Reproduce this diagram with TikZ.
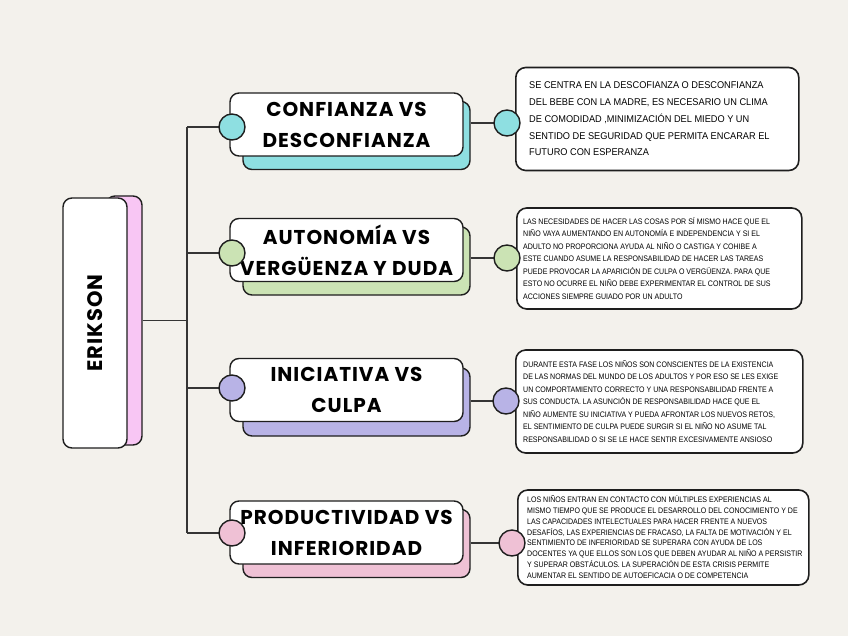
\documentclass[tikz,border=0pt]{standalone}
\usepackage{fontspec}
\setmainfont{Liberation Sans}
\newfontfamily\titlefont[LetterSpace=5]{Poppins}
\newfontfamily\descA[FakeStretch=0.94]{Liberation Sans}
\newfontfamily\descB[FakeStretch=0.88]{Liberation Sans}
\definecolor{paper}{HTML}{F3F1EC}
\definecolor{cyanC}{HTML}{8EDFE1}
\definecolor{greenC}{HTML}{CBE3B4}
\definecolor{lavC}{HTML}{B8B3E6}
\definecolor{pinkC}{HTML}{EFC1D5}
\definecolor{erpink}{HTML}{F8C6F4}
\definecolor{inkC}{HTML}{1E1E1E}
\tikzset{
  titlebox/.style={draw=inkC, line width=1.4pt, fill=white, rounded corners=9pt,
    minimum width=233pt, minimum height=63pt, inner sep=0pt, align=center,
    font=\titlefont\bfseries\fontsize{20}{31}\selectfont},
  shadowbox/.style={draw=inkC, line width=1.4pt, rounded corners=9pt,
    minimum width=227pt, minimum height=68pt, inner sep=0pt},
  dot/.style={circle, draw=inkC, line width=1.4pt, minimum size=26pt, inner sep=0pt},
  descbox/.style={draw=inkC, line width=1.6pt, fill=white, rounded corners=10pt,
    anchor=west, inner sep=0pt},
  desctext/.style={align=left, anchor=west, inner sep=0pt},
  link/.style={line width=1.3pt, draw=inkC!90},
}
\begin{document}
\begin{tikzpicture}[x=1pt,y=-1pt]
\fill[paper] (0,0) rectangle (848,636);
\useasboundingbox (0,0) rectangle (848,636);

% bus
\coordinate (bt) at (187,127);
\coordinate (bb) at (187,533);
\draw[link] (bt) -- (bb);

% Erikson
\node[draw=inkC, line width=1.4pt, fill=erpink, rounded corners=9pt, minimum width=36pt, minimum height=249pt, inner sep=0pt] (ersh) at (124,320.5) {};
\draw[link] (ersh.east) -- (ersh.east -| bt);
\node[draw=inkC, line width=1.4pt, fill=white, rounded corners=9pt, minimum width=64pt, minimum height=250pt, inner sep=0pt] (er) at (95,323) {};
\node[rotate=90, font=\titlefont\bfseries\fontsize{21}{24}\selectfont] (ert) at (er.center) {ERIKSON};

% dots positions
\coordinate (p1) at (232,127);
\coordinate (p2) at (232,253);
\coordinate (p3) at (232,388);
\coordinate (p4) at (232,533);
\coordinate (q1) at (507,123);
\coordinate (q2) at (507,258);
\coordinate (q3) at (506,401);
\coordinate (q4) at (512,543);

% shadows
\node[shadowbox, fill=cyanC] (s1) at (356.5,135.5) {};
\node[shadowbox, fill=greenC] (s2) at (356.5,261) {};
\node[shadowbox, fill=lavC] (s3) at (356.5,402) {};
\node[shadowbox, fill=pinkC] (s4) at (356.5,543.5) {};

% links
\foreach \i in {1,2,3,4}{
  \draw[link] (p\i -| bt) -- (p\i);
  \draw[link] (s\i.east |- q\i) -- (q\i);
}

% title boxes
\node[titlebox] (t1) at (346.5,124.5) {CONFIANZA VS\\DESCONFIANZA};
\node[titlebox] (t2) at (346.5,250) {AUTONOMÍA VS\\VERGÜENZA Y DUDA};
\node[titlebox] (t3) at (346.5,390) {INICIATIVA VS\\CULPA};
\node[titlebox] (t4) at (346.5,532.5) {PRODUCTIVIDAD VS\\INFERIORIDAD};

% description boxes
\node[descbox, minimum width=283pt, minimum height=103pt] (d1) at (515,119) {};
\node[desctext, font=\descA\fontsize{9.8}{16.7}\selectfont] (d1t) at ([xshift=14pt]d1.west) {SE CENTRA EN LA DESCOFIANZA O DESCONFIANZA\\
DEL BEBE CON LA MADRE, ES NECESARIO UN CLIMA\\
DE COMODIDAD ,MINIMIZACIÓN DEL MIEDO Y UN\\
SENTIDO DE SEGURIDAD QUE PERMITA ENCARAR EL\\
FUTURO CON ESPERANZA};

\node[descbox, minimum width=285pt, minimum height=101pt] (d2) at (516,258.5) {};
\node[desctext, font=\descB\fontsize{8}{12.5}\selectfont] (d2t) at ([xshift=7pt]d2.west) {LAS NECESIDADES DE HACER LAS COSAS POR SÍ MISMO HACE QUE EL\\
NIÑO VAYA AUMENTANDO EN AUTONOMÍA E INDEPENDENCIA Y SI EL\\
ADULTO NO PROPORCIONA AYUDA AL NIÑO O CASTIGA Y COHIBE A\\
ESTE CUANDO ASUME LA RESPONSABILIDAD DE HACER LAS TAREAS\\
PUEDE PROVOCAR LA APARICIÓN DE CULPA O VERGÜENZA. PARA QUE\\
ESTO NO OCURRE EL NIÑO DEBE EXPERIMENTAR EL CONTROL DE SUS\\
ACCIONES SIEMPRE GUIADO POR UN ADULTO};

\node[descbox, minimum width=287pt, minimum height=103pt] (d3) at (515,401.5) {};
\node[desctext, font=\descB\fontsize{8}{12.5}\selectfont] (d3t) at ([xshift=8pt]d3.west) {DURANTE ESTA FASE LOS NIÑOS SON CONSCIENTES DE LA EXISTENCIA\\
DE LAS NORMAS DEL MUNDO DE LOS ADULTOS Y POR ESO SE LES EXIGE\\
UN COMPORTAMIENTO CORRECTO Y UNA RESPONSABILIDAD FRENTE A\\
SUS CONDUCTA. LA ASUNCIÓN DE RESPONSABILIDAD HACE QUE EL\\
NIÑO AUMENTE SU INICIATIVA Y PUEDA AFRONTAR LOS NUEVOS RETOS,\\
EL SENTIMIENTO DE CULPA PUEDE SURGIR SI EL NIÑO NO ASUME TAL\\
RESPONSABILIDAD O SI SE LE HACE SENTIR EXCESIVAMENTE ANSIOSO};

\node[descbox, minimum width=291pt, minimum height=95pt] (d4) at (517,537.5) {};
\node[desctext, font=\descB\fontsize{8}{10.9}\selectfont] (d4t) at ([xshift=10pt, yshift=0.5pt]d4.west) {LOS NIÑOS ENTRAN EN CONTACTO CON MÚLTIPLES EXPERIENCIAS AL\\
MISMO TIEMPO QUE SE PRODUCE EL DESARROLLO DEL CONOCIMIENTO Y DE\\
LAS CAPACIDADES INTELECTUALES PARA HACER FRENTE A NUEVOS\\
DESAFÍOS, LAS EXPERIENCIAS DE FRACASO, LA FALTA DE MOTIVACIÓN Y EL\\
SENTIMIENTO DE INFERIORIDAD SE SUPERARA CON AYUDA DE LOS\\
DOCENTES YA QUE ELLOS SON LOS QUE DEBEN AYUDAR AL NIÑO A PERSISTIR\\
Y SUPERAR OBSTÁCULOS. LA SUPERACIÓN DE ESTA CRISIS PERMITE\\
AUMENTAR EL SENTIDO DE AUTOEFICACIA O DE COMPETENCIA};

% dots
\node[dot, fill=cyanC] (c1) at (p1) {};
\node[dot, fill=greenC] (c2) at (p2) {};
\node[dot, fill=lavC] (c3) at (p3) {};
\node[dot, fill=pinkC] (c4) at (p4) {};
\node[dot, fill=cyanC] (e1) at (q1) {};
\node[dot, fill=greenC] (e2) at (q2) {};
\node[dot, fill=lavC] (e3) at (q3) {};
\node[dot, fill=pinkC] (e4) at (q4) {};
\end{tikzpicture}
\end{document}
